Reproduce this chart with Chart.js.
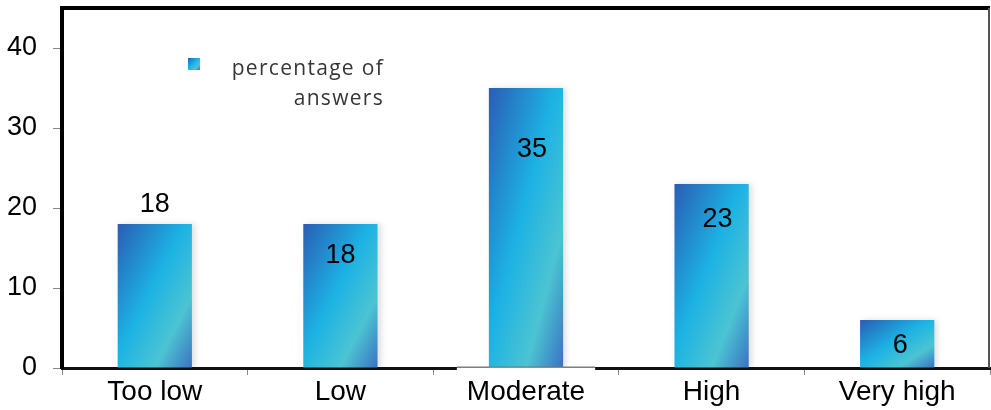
<!DOCTYPE html>
<html>
<head>
<meta charset="utf-8">
<title>Percentage of answers</title>
<script src="https://cdn.jsdelivr.net/npm/chart.js@4/dist/chart.umd.min.js"></script>
<style>
  html, body { margin: 0; padding: 0; background: #ffffff; }
  #wrap { width: 991px; height: 410px; position: relative; }
</style>
</head>
<body>
<div id="wrap"><canvas id="chart"></canvas></div>
<script>
// Survey result: share of answers per rating
const categories = ['Too low', 'Low', 'Moderate', 'High', 'Very high'];
const percentages = [18, 18, 35, 23, 6];
const seriesLabel = 'percentage of answers';
const yTicks = [0, 10, 20, 30, 40];

// Value label placement relative to each bar top (px)
const labelDx = [0, 0, 6, 6, 3];
const labelDy = [-19, 32, 62, 36, 26];

const FONT = '"Liberation Sans", Arial, sans-serif';

// Diagonal gradient stretched to the shape (isolines follow the anti-diagonal)
function shapeGradient(ctx, x0, y0, w, h) {
  const k = (2 * w * h) / (w * w + h * h);
  const g = ctx.createLinearGradient(x0, y0, x0 + h * k, y0 + w * k);
  g.addColorStop(0.00, '#2a5db4');
  g.addColorStop(0.45, '#1cb2e4');
  g.addColorStop(0.75, '#4cc4d2');
  g.addColorStop(1.00, '#3a72c2');
  return g;
}

function barFill(context) {
  const chart = context.chart;
  const xs = chart.scales.x, ys = chart.scales.y;
  if (!xs || !ys || !chart.chartArea || context.dataIndex === undefined) return '#1cb2e4';
  const v = context.dataset.data[context.dataIndex];
  const cx = xs.getPixelForValue(context.dataIndex);
  const w = (xs.width / categories.length) * 0.4;
  const top = ys.getPixelForValue(v);
  const base = ys.getPixelForValue(0);
  return shapeGradient(chart.ctx, cx - w / 2, top, w, Math.max(1, base - top));
}

const framePlugin = {
  id: 'frame',
  beforeDatasetsDraw(chart) {
    const ctx = chart.ctx;
    ctx.save();
    ctx.shadowColor = 'rgba(0,0,0,0.13)';
    ctx.shadowBlur = 6;
    ctx.shadowOffsetX = 3;
    ctx.shadowOffsetY = 0;
  },
  afterDatasetsDraw(chart) {
    const ctx = chart.ctx;
    ctx.restore();
    const meta = chart.getDatasetMeta(0);
    // value labels
    ctx.save();
    ctx.font = '27px ' + FONT;
    ctx.fillStyle = '#000000';
    ctx.textAlign = 'center';
    ctx.textBaseline = 'middle';
    meta.data.forEach((bar, i) => {
      ctx.fillText(String(percentages[i]), bar.x + labelDx[i], bar.y + labelDy[i]);
    });
    ctx.restore();
  },
  afterDraw(chart) {
    const ctx = chart.ctx;
    const a = chart.chartArea;
    ctx.save();
    // top frame line
    ctx.strokeStyle = '#000000';
    ctx.lineWidth = 4;
    ctx.beginPath();
    ctx.moveTo(a.left - 2, a.top);
    ctx.lineTo(a.right, a.top);
    ctx.stroke();
    // right frame line
    ctx.strokeStyle = '#555555';
    ctx.lineWidth = 2;
    ctx.beginPath();
    ctx.moveTo(a.right - 1, a.top);
    ctx.lineTo(a.right - 1, a.bottom);
    ctx.stroke();

    // white label box under "Moderate" cutting into the axis line
    const xs = chart.scales.x;
    ctx.font = '28px ' + FONT;
    const idx = 2;
    const tw = ctx.measureText(categories[idx]).width;
    const cx = xs.getPixelForValue(idx);
    ctx.fillStyle = '#ffffff';
    ctx.fillRect(cx - tw / 2 - 10, a.bottom - 0.5, tw + 20, 6);
    ctx.strokeStyle = '#777777';
    ctx.lineWidth = 1;
    ctx.beginPath();
    ctx.moveTo(cx - tw / 2 - 10, a.bottom - 1);
    ctx.lineTo(cx + tw / 2 + 10, a.bottom - 1);
    ctx.stroke();

    // legend entry
    const lx = a.left + 126, ly = a.top + 50;
    ctx.fillStyle = shapeGradient(ctx, lx, ly, 12, 12);
    ctx.fillRect(lx, ly, 12, 12);
    ctx.font = '21px "Open Sans", sans-serif';
    ctx.letterSpacing = '1.3px';
    ctx.fillStyle = '#363636';
    ctx.textAlign = 'right';
    ctx.textBaseline = 'alphabetic';
    const words = seriesLabel.split(' ');
    const line1 = words.slice(0, 2).join(' ');
    const line2 = words.slice(2).join(' ');
    const rx = a.left + 322;
    ctx.fillText(line1, rx, ly + 17);
    ctx.fillText(line2, rx, ly + 47);
    ctx.restore();
  }
};

new Chart(document.getElementById('chart'), {
  type: 'bar',
  data: {
    labels: categories,
    datasets: [{
      label: seriesLabel,
      data: percentages,
      backgroundColor: barFill,
      borderWidth: 0,
      categoryPercentage: 1.0,
      barPercentage: 0.4
    }]
  },
  options: {
    responsive: true,
    maintainAspectRatio: false,
    animation: false,
    layout: { padding: { top: 8, right: 1, left: 0, bottom: 0 } },
    plugins: {
      legend: { display: false },
      tooltip: { enabled: false }
    },
    scales: {
      x: {
        grid: {
          display: true,
          drawOnChartArea: false,
          drawTicks: true,
          tickLength: 7,
          color: '#888888',
          offset: true
        },
        border: { display: true, color: '#111111', width: 3 },
        ticks: {
          font: { family: FONT, size: 28 },
          color: '#000000',
          padding: 0,
          maxRotation: 0
        },
        afterFit(scale) { scale.height = 42; scale.paddingLeft = 0; scale.paddingRight = 0; }
      },
      y: {
        min: 0,
        max: 45,
        afterBuildTicks(scale) {
          scale.ticks = yTicks.map(v => ({ value: v }));
        },
        grid: {
          display: true,
          drawOnChartArea: false,
          drawTicks: true,
          tickLength: 9,
          color: '#888888'
        },
        border: { display: true, color: '#000000', width: 4 },
        ticks: {
          font: { family: FONT, size: 27 },
          color: '#000000',
          padding: 16
        },
        afterFit(scale) { scale.width = 62; scale.paddingTop = 0; scale.paddingBottom = 0; }
      }
    }
  },
  plugins: [framePlugin]
});
</script>
</body>
</html>
